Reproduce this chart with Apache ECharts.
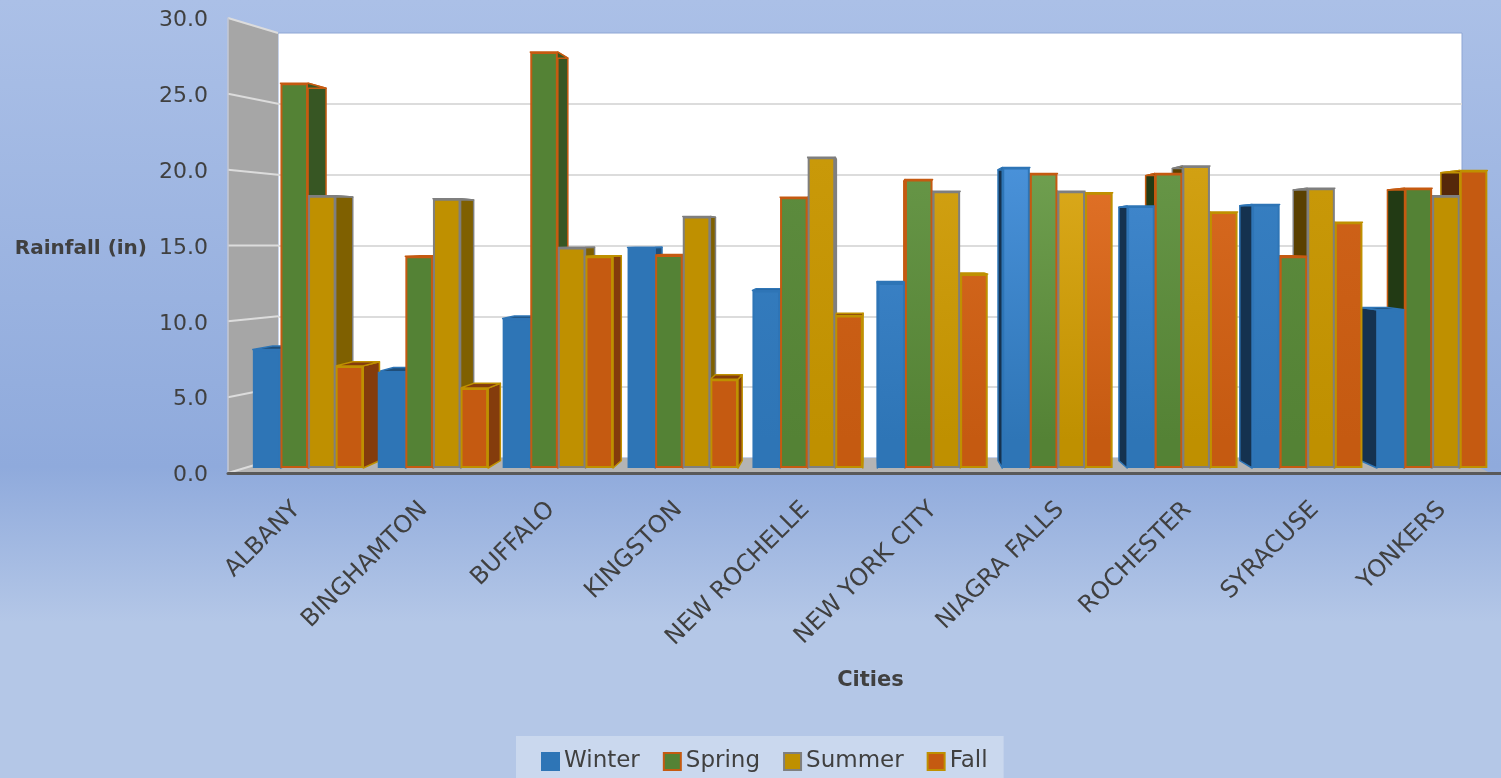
<!DOCTYPE html>
<html>
<head>
<meta charset="utf-8">
<title>Rainfall by city</title>
<script src="https://cdn.jsdelivr.net/npm/echarts@6/dist/echarts.min.js"></script>
<style>
html, body { margin: 0; padding: 0; background: #b4c7e7; }
#main { width: 1501px; height: 778px; filter: blur(0.5px); }
</style>
</head>
<body>
<div id="main"></div>
<script>
const cities = ['ALBANY', 'BINGHAMTON', 'BUFFALO', 'KINGSTON', 'NEW ROCHELLE', 'NEW YORK CITY', 'NIAGRA FALLS', 'ROCHESTER', 'SYRACUSE', 'YONKERS']
const seasons = ['Winter', 'Spring', 'Summer', 'Fall']
const winter = [8.0, 6.5, 10.1, 14.9, 12.0, 12.5, 20.3, 17.7, 17.8, 10.7]
const spring = [26.0, 14.3, 28.1, 14.4, 18.3, 19.5, 19.9, 19.9, 14.3, 18.9]
const summer = [18.4, 18.2, 14.9, 17.0, 21.0, 18.7, 18.7, 20.4, 18.9, 18.4]
const fall = [6.9, 5.4, 14.3, 6.0, 10.3, 13.1, 18.6, 17.3, 16.6, 20.1]
const yTicks = [0, 5, 10, 15, 20, 25, 30]

const values = [winter, spring, summer, fall]
const fillColors = ['#2e75b6', '#548235', '#bf9000', '#c55a11']
const lightFills = ['#4a92da', '#70a050', '#dcaa1c', '#e27228']
const edgeColors = ['#2e75b6', '#c55a11', '#7f7f7f', '#bf9000']
const sideLeftHalf = ['#1f4e79', '#375623', '#7f6000', '#843c0c']
const sideRightHalf = ['#15324f', '#223a14', '#5a4000', '#55280a']

const BAR_W = 27.6
const VANISH_X = 870
const VANISH_Y = 240
const DEPTH = 0.032

const textColor = '#404040'
const font = '"DejaVu Sans", Verdana, sans-serif'

const chart = echarts.init(document.getElementById('main'))

// bars get lighter towards the middle-right of the picture, as in the original lighting
function barFill(season, cityIndex) {
  const strength = Math.max(0, 1 - Math.abs(cityIndex - 6) / 3)
  const base = fillColors[season]
  if (!strength) return base
  return {
    type: 'linear', global: true, x: 0, y: 160, x2: 0, y2: 440,
    colorStops: [
      { offset: 0, color: echarts.color.lerp(strength, [base, lightFills[season]]) },
      { offset: 1, color: base }
    ]
  }
}

function renderDepth(params, api) {
  const city = api.value(0)
  const season = api.value(1)
  const top = api.coord([city, api.value(2)])
  const base = api.coord([city, 0])
  const x0 = top[0] - 2 * BAR_W + season * BAR_W
  const x1 = x0 + BAR_W
  const leftHalf = top[0] < VANISH_X
  const edge = leftHalf ? x1 : x0
  const dx = x => (VANISH_X - x) * DEPTH
  const dy = y => (VANISH_Y - y) * DEPTH
  const order = leftHalf ? season : 3 - season
  const stroke = edgeColors[season]
  const yt = top[1]
  const yb = base[1]
  return {
    type: 'group',
    children: [
      {
        type: 'polygon',
        z2: order * 2,
        shape: { points: [[edge, yt], [edge + dx(edge), yt + dy(yt)], [edge + dx(edge), yb + dy(yb)], [edge, yb]] },
        style: { fill: leftHalf ? sideLeftHalf[season] : sideRightHalf[season], stroke: stroke, lineWidth: 1.5, lineJoin: 'round' }
      },
      {
        type: 'polygon',
        z2: order * 2 + 1,
        shape: { points: [[x0, yt], [x1, yt], [x1 + dx(x1), yt + dy(yt)], [x0 + dx(x0), yt + dy(yt)]] },
        style: { fill: sideLeftHalf[season], stroke: stroke, lineWidth: 1.5, lineJoin: 'round' }
      }
    ]
  }
}

const depthData = []
values.forEach((list, s) => list.forEach((v, c) => depthData.push([c, s, v])))

chart.setOption({
  animation: false,
  backgroundColor: {
    type: 'linear', x: 0, y: 0, x2: 0, y2: 1,
    colorStops: [
      { offset: 0, color: '#abc0e7' },
      { offset: 0.6, color: '#8faadc' },
      { offset: 0.8, color: '#b4c7e7' },
      { offset: 1, color: '#b4c7e7' }
    ]
  },
  textStyle: { fontFamily: font, color: textColor },
  legend: {
    data: seasons,
    left: 516,
    top: 736,
    padding: [14, 16, 12, 25],
    itemGap: 23,
    itemWidth: 17,
    itemHeight: 17,
    backgroundColor: 'rgba(255,255,255,0.3)',
    icon: 'rect',
    textStyle: { fontFamily: font, fontSize: 23, color: textColor }
  },
  grid: [
    { left: 245.6, top: 24, width: 1249, height: 444 },
    { left: 278, top: 33, width: 1184, height: 425, show: true, backgroundColor: '#fff', borderColor: '#8ea6d4', borderWidth: 1 },
    { left: 228, top: 18, width: 1284, height: 455 }
  ],
  xAxis: [
    { type: 'category', gridIndex: 0, data: cities, show: false },
    { type: 'category', gridIndex: 1, data: cities, show: false },
    {
      type: 'category',
      gridIndex: 2,
      data: cities,
      z: 5,
      name: 'Cities',
      nameLocation: 'middle',
      nameGap: 197,
      nameTextStyle: { fontFamily: font, fontSize: 21, fontWeight: 'bold', color: textColor, padding: [0, 0, 0, 12] },
      axisLine: { lineStyle: { color: '#595959', width: 3 } },
      axisTick: { show: false },
      axisLabel: { rotate: 45, margin: 28, interval: 0, fontFamily: font, fontSize: 24, color: textColor, verticalAlign: 'top', lineHeight: 14 }
    }
  ],
  yAxis: [
    { type: 'value', gridIndex: 0, min: 0, max: 30, show: false },
    {
      type: 'value',
      gridIndex: 1,
      min: 0,
      max: 30,
      interval: 5,
      axisLine: { show: false },
      axisTick: { show: false },
      axisLabel: { show: false },
      splitLine: { showMinLine: false, showMaxLine: false, lineStyle: { color: '#dcdcdc', width: 2 } }
    },
    {
      type: 'value',
      gridIndex: 2,
      min: 0,
      max: 30,
      interval: 5,
      z: 5,
      name: 'Rainfall (in)',
      nameLocation: 'middle',
      nameRotate: 0,
      nameGap: 81,
      nameTextStyle: { fontFamily: font, fontSize: 20, fontWeight: 'bold', color: textColor, verticalAlign: 'top', lineHeight: 6 },
      axisLine: { show: true, lineStyle: { color: '#c4c9d4', width: 1.5 } },
      axisTick: { show: false },
      splitLine: { show: false },
      axisLabel: { margin: 20, fontFamily: font, fontSize: 22, color: textColor, verticalAlign: 'top', lineHeight: 5, formatter: v => v.toFixed(1) }
    }
  ],
  series: [
    {
      type: 'custom',
      name: 'depth',
      xAxisIndex: 0,
      yAxisIndex: 0,
      z: 1,
      clip: false,
      silent: true,
      encode: { x: 0, y: 2 },
      renderItem: renderDepth,
      data: depthData
    }
  ].concat(seasons.map((name, s) => ({
    type: 'bar',
    name: name,
    xAxisIndex: 0,
    yAxisIndex: 0,
    z: 2,
    barWidth: BAR_W,
    barGap: 0,
    itemStyle: { color: fillColors[s], borderColor: edgeColors[s], borderWidth: 2 },
    data: values[s].map((v, c) => ({ value: v, itemStyle: { color: barFill(s, c) } }))
  })))
})

// gray side wall and floor, tied to the front and back y axes
const frontY = v => chart.convertToPixel({ yAxisIndex: 2 }, v)
const backY = v => chart.convertToPixel({ yAxisIndex: 1 }, v)
const wallX0 = 228
const wallX1 = 278
const backRight = 1462
const floorRight = 1490
const wallLines = yTicks.map(t => ({
  type: 'line',
  z: 1,
  shape: { x1: wallX0, y1: frontY(t), x2: wallX1, y2: backY(t) },
  style: { stroke: '#dcdcdc', lineWidth: 2 }
}))
chart.setOption({
  graphic: [
    {
      type: 'polygon',
      z: 0,
      shape: { points: [[wallX0, frontY(30)], [wallX1, backY(30)], [wallX1, backY(0)], [wallX0, frontY(0)]] },
      style: { fill: '#a6a6a6' }
    },
    {
      type: 'polygon',
      z: 0,
      shape: { points: [[wallX0, frontY(0)], [wallX1, backY(0)], [backRight, backY(0)], [floorRight, frontY(0)]] },
      style: { fill: '#b4b4b4' }
    }
  ].concat(wallLines)
})
</script>
</body>
</html>
